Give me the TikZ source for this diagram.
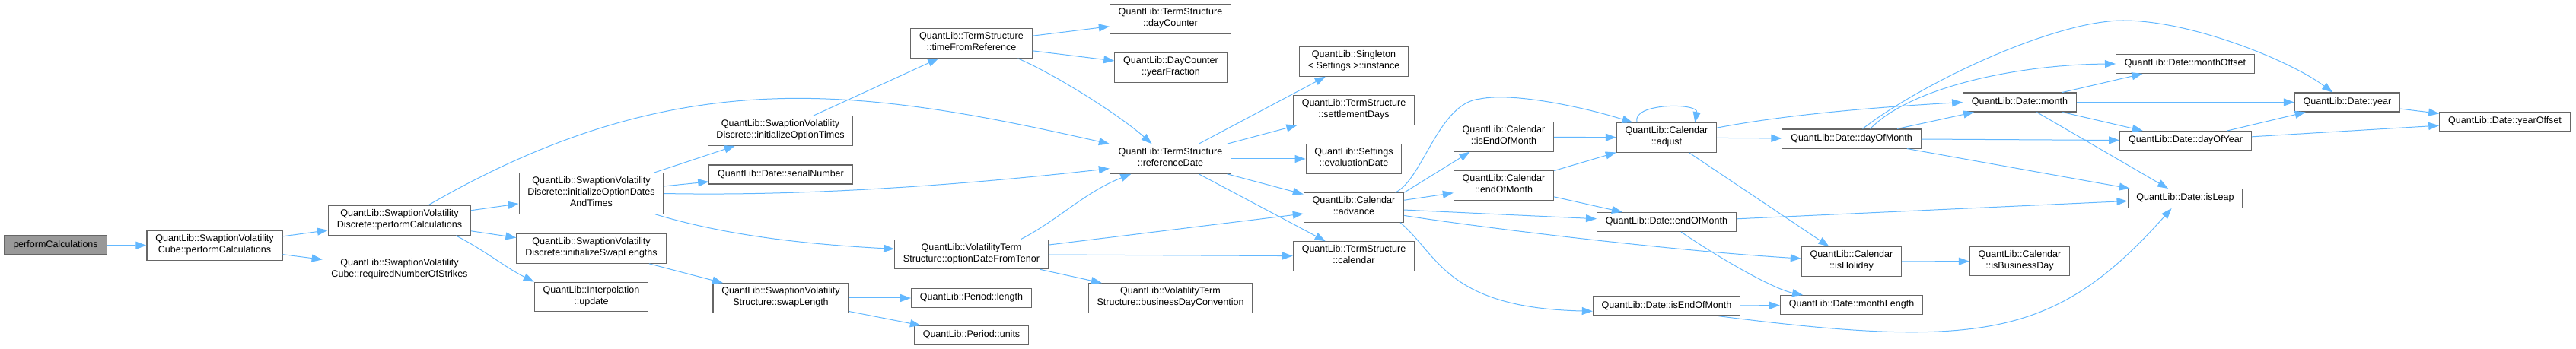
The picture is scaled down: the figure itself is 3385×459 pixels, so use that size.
\documentclass[tikz,border=0pt]{standalone}
\usepackage{fontspec}
\setmainfont{Liberation Sans}
\usetikzlibrary{arrows.meta}
\definecolor{callblue}{HTML}{63B8FF}
\definecolor{boxgray}{HTML}{666666}
\definecolor{rootgray}{HTML}{999999}
\tikzset{
  fn/.style={draw=boxgray, line width=0.8pt, fill=white, align=center,
    inner xsep=8.5pt, inner ysep=3.75pt, font=\fontsize{9.4}{11.25}\selectfont,
    execute at begin node=\strut, execute at end node=\strut},
  root/.style={fn, fill=rootgray},
  call/.style={draw=callblue, line width=0.75pt, -{Triangle[length=10.5pt,width=7.5pt]}}
}
\begin{document}
\begin{tikzpicture}[x=0.75pt, y=-0.75pt]
\useasboundingbox (0,0) rectangle (3385,459);

\node[root] (pc) at (73,322.5) {performCalculations};
\node[fn] (cubePC) at (282,323) {QuantLib::SwaptionVolatility\\Cube::performCalculations};
\node[fn] (discPC) at (525,290) {QuantLib::SwaptionVolatility\\Discrete::performCalculations};
\node[fn] (reqStrikes) at (525,354.5) {QuantLib::SwaptionVolatility\\Cube::requiredNumberOfStrikes};
\node[fn] (initOptDT) at (777,254.5) {QuantLib::SwaptionVolatility\\Discrete::initializeOptionDates\\AndTimes};
\node[fn] (initSwapLen) at (777,327) {QuantLib::SwaptionVolatility\\Discrete::initializeSwapLengths};
\node[fn] (interpUpd) at (777,390.5) {QuantLib::Interpolation\\::update};
\node[fn] (initOptTimes) at (1025.5,172) {QuantLib::SwaptionVolatility\\Discrete::initializeOptionTimes};
\node[fn] (serialNum) at (1026,229.5) {QuantLib::Date::serialNumber};
\node[fn] (swapLength) at (1026,392) {QuantLib::SwaptionVolatility\\Structure::swapLength};
\node[fn] (timeFromRef) at (1276.5,57) {QuantLib::TermStructure\\::timeFromReference};
\node[fn] (optDT) at (1276.5,334.5) {QuantLib::VolatilityTerm\\Structure::optionDateFromTenor};
\node[fn] (periodLength) at (1276.5,392) {QuantLib::Period::length};
\node[fn] (periodUnits) at (1276.5,441) {QuantLib::Period::units};
\node[fn] (dayCounter) at (1538,25) {QuantLib::TermStructure\\::dayCounter};
\node[fn] (yearFraction) at (1538.5,89) {QuantLib::DayCounter\\::yearFraction};
\node[fn] (refDate) at (1538,209) {QuantLib::TermStructure\\::referenceDate};
\node[fn] (bdConv) at (1538,392) {QuantLib::VolatilityTerm\\Structure::businessDayConvention};
\node[fn] (instance) at (1779,81) {QuantLib::Singleton\\< Settings >::instance};
\node[fn] (settleDays) at (1779,145) {QuantLib::TermStructure\\::settlementDays};
\node[fn] (evalDate) at (1779,209) {QuantLib::Settings\\::evaluationDate};
\node[fn] (advance) at (1779,273) {QuantLib::Calendar\\::advance};
\node[fn] (tsCalendar) at (1779,337) {QuantLib::TermStructure\\::calendar};
\node[fn] (calIsEOM) at (1976,180) {QuantLib::Calendar\\::isEndOfMonth};
\node[fn] (calEOM) at (1976,244) {QuantLib::Calendar\\::endOfMonth};
\node[fn] (adjust) at (2190,181) {QuantLib::Calendar\\::adjust};
\node[fn] (dateEOM) at (2190,292) {QuantLib::Date::endOfMonth};
\node[fn] (dateIsEOM) at (2190,402.5) {QuantLib::Date::isEndOfMonth};
\node[fn] (dayOfMonth) at (2433,182.5) {QuantLib::Date::dayOfMonth};
\node[fn] (isHoliday) at (2433,344) {QuantLib::Calendar\\::isHoliday};
\node[fn] (monthLength) at (2433,401) {QuantLib::Date::monthLength};
\node[fn] (month) at (2654,134.5) {QuantLib::Date::month};
\node[fn] (isBizDay) at (2654,343.5) {QuantLib::Calendar\\::isBusinessDay};
\node[fn] (monthOffset) at (2871.5,84) {QuantLib::Date::monthOffset};
\node[fn] (dayOfYear) at (2872,185) {QuantLib::Date::dayOfYear};
\node[fn] (isLeap) at (2871.5,261) {QuantLib::Date::isLeap};
\node[fn] (year) at (3084.5,134.5) {QuantLib::Date::year};
\node[fn] (yearOffset) at (3291.5,160) {QuantLib::Date::yearOffset};

\draw[call] (pc) -- (cubePC);
\draw[call] (cubePC) -- (discPC);
\draw[call] (cubePC) -- (reqStrikes);
\draw[call] (discPC) -- (initOptDT);
\draw[call] (discPC) -- (initSwapLen);
\draw[call] (discPC.-15) .. controls (640,331) and (661,350) .. (interpUpd.north west);
\draw[call] (discPC.28) .. controls (892,79) and (1132,116) .. (refDate.north west);
\draw[call] (initOptDT) -- (initOptTimes);
\draw[call] (initOptDT) -- (serialNum);
\draw[call] (initOptDT.east) .. controls (1050,258) and (1250,245) .. (refDate.-171);
\draw[call] (initOptDT.-18) .. controls (961,312) and (1073,322) .. (optDT.176);
\draw[call] (initOptTimes) -- (timeFromRef);
\draw[call] (initSwapLen) -- (swapLength);
\draw[call] (swapLength) -- (periodLength);
\draw[call] (swapLength) -- (periodUnits);
\draw[call] (timeFromRef) -- (dayCounter);
\draw[call] (timeFromRef) -- (yearFraction);
\draw[call] (timeFromRef.-18) .. controls (1389,99) and (1473,153) .. (refDate.141);
\draw[call] (optDT.17) .. controls (1391,289) and (1425,253) .. (refDate.-159);
\draw[call] (optDT) -- (advance);
\draw[call] (optDT) -- (tsCalendar);
\draw[call] (optDT) -- (bdConv);
\draw[call] (refDate) -- (instance);
\draw[call] (refDate) -- (settleDays);
\draw[call] (refDate) -- (evalDate);
\draw[call] (refDate) -- (advance);
\draw[call] (refDate) -- (tsCalendar);
\draw[call] (advance.20) .. controls (1870,236) and (1890,135) .. (1945,130)
  .. controls (1990,121) and (2085,142) .. (adjust.156);
\draw[call] (advance.north east) -- (calIsEOM.-156);
\draw[call] (advance) -- (calEOM);
\draw[call] (advance) -- (dateEOM);
\draw[call] (advance) .. controls (1950,300) and (2200,330) .. (isHoliday);
\draw[call] (advance.-18) .. controls (1890,335) and (1900,405) .. (dateIsEOM.184);
\draw[call] (calIsEOM) -- (adjust);
\draw[call] (calEOM) -- (adjust);
\draw[call] (calEOM) -- (dateEOM);
\draw[call] (adjust.153) .. controls (2143,135) and (2232,135) .. (adjust.28);
\draw[call] (adjust) -- (dayOfMonth);
\draw[call] (adjust) -- (isHoliday);
\draw[call] (adjust.11) .. controls (2350,150) and (2480,140) .. (month.west);
\draw[call] (dayOfMonth) -- (month);
\draw[call] (dayOfMonth.28) .. controls (2510,115) and (2650,85) .. (monthOffset.west);
\draw[call] (dayOfMonth.42) .. controls (2527,108) and (2700,27) .. (2790,27)
  .. controls (2880,27) and (3010,80) .. (year.146);
\draw[call] (dayOfMonth) -- (dayOfYear);
\draw[call] (dayOfMonth) -- (isLeap);
\draw[call] (dateEOM) -- (isLeap);
\draw[call] (dateEOM) .. controls (2260,340) and (2330,380) .. (monthLength);
\draw[call] (isHoliday) -- (isBizDay);
\draw[call] (dateIsEOM) -- (monthLength);
\draw[call] (dateIsEOM.-11) .. controls (2605,460) and (2703,443) .. (isLeap.-144);
\draw[call] (month) -- (monthOffset);
\draw[call] (month) -- (year);
\draw[call] (month) -- (dayOfYear);
\draw[call] (month) -- (isLeap);
\draw[call] (dayOfYear) -- (year);
\draw[call] (dayOfYear) -- (yearOffset);
\draw[call] (year) -- (yearOffset);
\end{tikzpicture}
\end{document}
